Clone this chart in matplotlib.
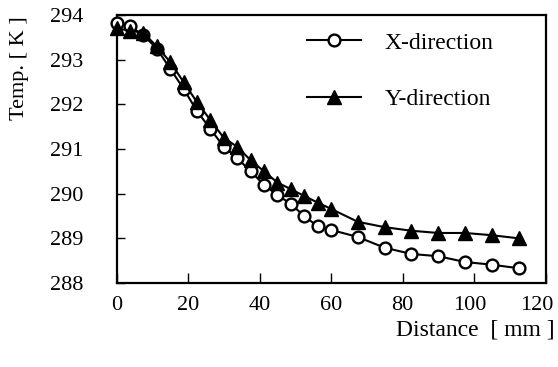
import matplotlib
matplotlib.use("Agg")
import matplotlib.pyplot as plt
import matplotlib.transforms as mtransforms

plt.rcParams['font.family'] = ['Liberation Serif', 'DejaVu Serif']

distance = [0, 3.75, 7.5, 11.25, 15, 18.75, 22.5, 26.25, 30, 33.75, 37.5, 41.25,
            45, 48.75, 52.5, 56.25, 60, 67.5, 75, 82.5, 90, 97.5, 105, 112.5]
temp_x = [293.82, 293.75, 293.55, 293.25, 292.8, 292.35, 291.85, 291.45, 291.05,
          290.8, 290.5, 290.2, 289.97, 289.77, 289.5, 289.27, 289.19, 289.03,
          288.79, 288.65, 288.6, 288.47, 288.41, 288.33]
temp_y = [293.7, 293.65, 293.6, 293.3, 292.95, 292.5, 292.05, 291.65, 291.25,
          291.05, 290.75, 290.5, 290.25, 290.1, 289.95, 289.8, 289.66, 289.37,
          289.25, 289.17, 289.12, 289.12, 289.07, 289.0]
xticks = [0, 20, 40, 60, 80, 100, 120]
yticks = [288, 289, 290, 291, 292, 293, 294]

fig = plt.figure(figsize=(5.58, 3.67), dpi=100)
ax = fig.add_axes([116.5/558, 1-283/367, 429/558, 268/367])

ax.plot(distance, temp_x, color='black', lw=1.5, marker='o', markersize=8.5,
        markerfacecolor='white', markeredgecolor='black', markeredgewidth=1.7,
        label='X-direction', clip_on=False, zorder=3)
ax.plot(distance, temp_y, color='black', lw=1.5, marker='^', markersize=10,
        markerfacecolor='black', markeredgecolor='black',
        label='Y-direction', clip_on=False, zorder=4)

ax.set_xlim(0, 120)
ax.set_ylim(288, 294)
ax.set_xticks(xticks)
ax.set_yticks(yticks)
ax.set_xticklabels([str(v) for v in xticks])
ax.set_yticklabels([str(v) for v in yticks])
ax.tick_params(axis='x', direction='in', length=7, width=1, pad=9, labelsize=16)
ax.tick_params(axis='y', direction='in', length=6, width=1, pad=24, labelsize=16)
for s in ax.spines.values():
    s.set_linewidth(1.6)

# nudge the last two x tick labels left, as in the reference
xl = ax.get_xticklabels()
for lab, dx in ((xl[-2], -4), (xl[-1], -9)):
    lab.set_transform(lab.get_transform() + mtransforms.ScaledTranslation(dx/100, 0, fig.dpi_scale_trans))

fig.text(555/558, 1-330/367, 'Distance  [ mm ]', ha='right', va='center', fontsize=17)
fig.text(20/558, 1-68/367, 'Temp. [ K ]', ha='center', va='center', rotation=90, fontsize=16)

ax.legend(loc='upper left', bbox_to_anchor=(307/558, 1-32/367), bbox_transform=fig.transFigure,
          frameon=False, borderaxespad=0, borderpad=0, fontsize=17,
          handlelength=2.3, handletextpad=1.0, labelspacing=1.5, markerscale=1.0)

fig.savefig('out.png', dpi=100)
